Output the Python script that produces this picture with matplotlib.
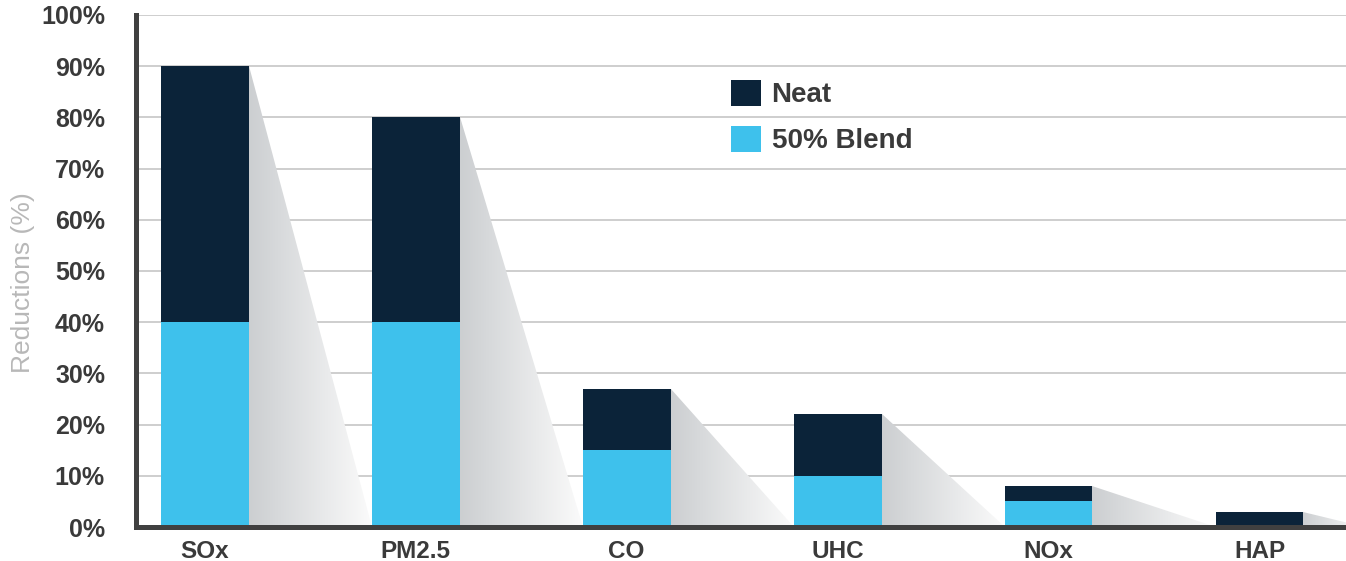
import numpy as np
import matplotlib
matplotlib.use("Agg")
import matplotlib.pyplot as plt
from matplotlib.patches import Polygon, Patch

plt.rcParams["font.family"] = ["Liberation Sans", "DejaVu Sans"]

# Emission reductions (%) for neat fuel and a 50% blend
categories = ["SOx", "PM2.5", "CO", "UHC", "NOx", "HAP"]
neat = [90, 80, 27, 22, 8, 3]
blend = [40, 40, 15, 10, 5, 0]
yticks = [0, 10, 20, 30, 40, 50, 60, 70, 80, 90, 100]
ytick_labels = [f"{v}%" for v in yticks]

NAVY = "#0b2339"
CYAN = "#3ec1ec"
AXIS = "#404040"
TEXT = "#3a3a3a"

fig = plt.figure(figsize=(13.46, 5.61), dpi=100)
ax = fig.add_axes([0.1007, 0.0606, 0.8993, 0.9127])

x = np.arange(len(categories))
width = 0.417
xmax = 5.41
ax.set_xlim(-0.327, xmax)
ax.set_ylim(0, 100)

# Gradient shadow wedges trailing from each bar's top-right corner
grad = np.linspace(0, 1, 256)[None, :]
left_c = np.array([0.80, 0.81, 0.82])
right_c = np.array([0.985, 0.985, 0.985])
rgb = left_c[None, None, :] + (right_c - left_c)[None, None, :] * grad[..., None]
for i, top in enumerate(neat):
    x0 = x[i] + width / 2
    x1 = x[i + 1] - width / 2 if i + 1 < len(x) else x[i] + 0.5
    poly = Polygon([(x0, top), (x0, 0), (x1, 0)], closed=True,
                   facecolor="none", edgecolor="none")
    ax.add_patch(poly)
    im = ax.imshow(rgb, extent=(x0, x1, 0, top), aspect="auto",
                   origin="lower", zorder=1.5, interpolation="bilinear")
    im.set_clip_path(poly)

ax.bar(x, neat, width=width, color=NAVY, zorder=2, label="Neat")
ax.bar(x, blend, width=width, color=CYAN, zorder=2.1, label="50% Blend")

ax.set_yticks(yticks)
ax.set_yticklabels(ytick_labels)
ax.set_xticks(x)
ax.set_xticklabels(categories)
ax.tick_params(axis="both", length=0, colors=TEXT)
ax.tick_params(axis="y", pad=22, labelsize=18)
ax.tick_params(axis="x", pad=9, labelsize=17.5)
for lab in ax.get_xticklabels() + ax.get_yticklabels():
    lab.set_fontweight("bold")

ax.yaxis.grid(True, color="#c6c6c6", linewidth=1.2, zorder=0)
ax.set_axisbelow(True)

for side in ("top", "right"):
    ax.spines[side].set_visible(False)
for side in ("left", "bottom"):
    ax.spines[side].set_color(AXIS)
    ax.spines[side].set_linewidth(3.6)
    ax.spines[side].set_zorder(3)

ax.set_ylabel("Reductions (%)", fontsize=19, color="#b8b8b8")
ax.yaxis.set_label_coords(-0.083, 0.478)

handles = [Patch(facecolor=NAVY, label="Neat"),
           Patch(facecolor=CYAN, label="50% Blend")]
leg = ax.legend(handles=handles, loc="upper left",
                bbox_to_anchor=(731 / 1346, 1 - 80 / 561),
                bbox_transform=fig.transFigure, frameon=False,
                prop={"size": 20, "weight": "bold"},
                handlelength=1.08, handleheight=1.05, handletextpad=0.38,
                labelspacing=0.64, borderpad=0, borderaxespad=0)
for t in leg.get_texts():
    t.set_color(TEXT)

fig.savefig("out.png", dpi=100, facecolor="white")
